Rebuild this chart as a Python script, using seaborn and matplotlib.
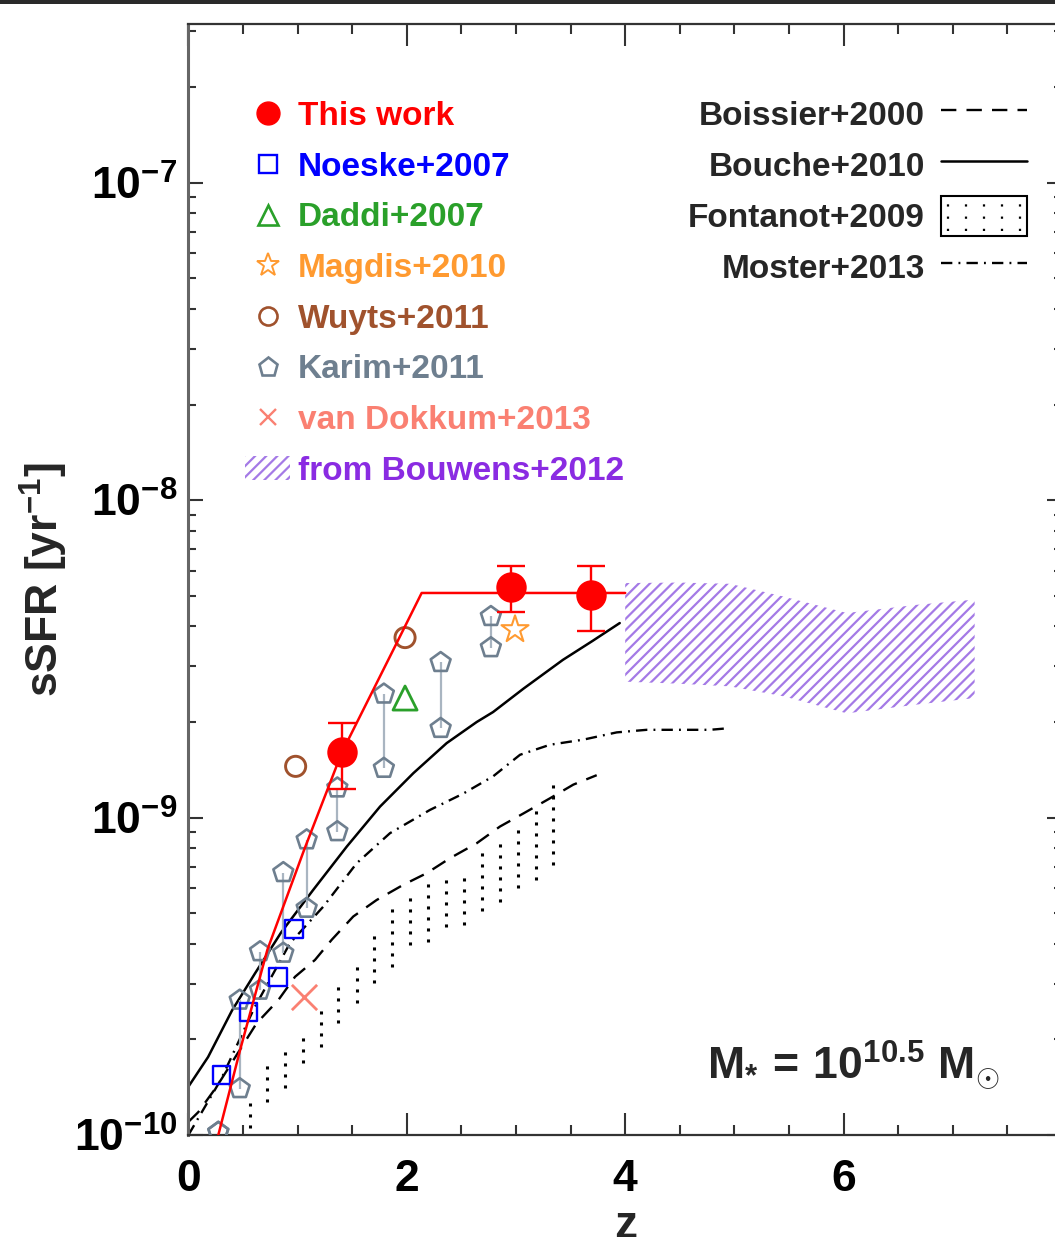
import numpy as np
import matplotlib
matplotlib.use("Agg")
import matplotlib.pyplot as plt
import seaborn as sns
from matplotlib.lines import Line2D
from matplotlib.patches import Patch, Rectangle
from matplotlib.legend_handler import HandlerBase
from matplotlib.ticker import MultipleLocator, LogLocator, NullFormatter, FixedLocator

# ---------------------------------------------------------------- data
# This work: sSFR measurements with asymmetric errors
this_z = [1.41, 2.95, 3.69]
this_ssfr = [1.61e-9, 5.32e-9, 5.04e-9]
this_hi = [1.98e-9, 6.21e-9, 6.21e-9]
this_lo = [1.23e-9, 4.43e-9, 3.88e-9]

# This work: rising then flat relation
fit_z = [0.274, 0.473, 0.723, 1.059, 1.404, 1.877, 2.136, 4.0]
fit_ssfr = [1.0e-10, 1.85e-10, 3.83e-10, 7.9e-10, 1.6e-9, 3.38e-9, 5.1e-9, 5.1e-9]

noeske_z = [0.305, 0.549, 0.818, 0.965]
noeske_ssfr = [1.545e-10, 2.44e-10, 3.14e-10, 4.46e-10]

daddi_z = [1.984]
daddi_ssfr = [2.38e-9]

magdis_z = [2.991]
magdis_ssfr = [3.91e-9]

wuyts_z = [0.982, 1.984]
wuyts_ssfr = [1.45e-9, 3.69e-9]

karim_z = [0.274, 0.47, 0.656, 0.869, 1.083, 1.364, 1.79, 2.31, 2.77]
karim_hi = [1.02e-10, 2.66e-10, 3.78e-10, 6.71e-10, 8.51e-10, 1.24e-9, 2.45e-9, 3.08e-9, 4.30e-9]
karim_lo = [1.02e-10, 1.40e-10, 2.86e-10, 3.74e-10, 5.18e-10, 9.03e-10, 1.43e-9, 1.91e-9, 3.43e-9]

vandokkum_z = [1.059]
vandokkum_ssfr = [2.73e-10]

bouwens_z = [4.0, 4.5, 4.96, 5.45, 6.03, 6.67, 7.2]
bouwens_hi = [5.48e-9, 5.5e-9, 5.45e-9, 4.97e-9, 4.41e-9, 4.68e-9, 4.86e-9]
bouwens_lo = [2.68e-9, 2.64e-9, 2.59e-9, 2.41e-9, 2.13e-9, 2.27e-9, 2.38e-9]

# Models
boissier_z = [0.0, 0.09, 0.259, 0.625, 0.823, 0.976, 1.159, 1.312, 1.51, 1.724, 1.968,
              2.182, 2.396, 2.64, 2.853, 3.067, 3.311, 3.525, 3.739]
boissier_ssfr = [1.10e-10, 1.18e-10, 1.42e-10, 2.25e-10, 2.66e-10, 3.15e-10, 3.56e-10,
                 4.12e-10, 4.88e-10, 5.5e-10, 6.14e-10, 6.68e-10, 7.45e-10, 8.3e-10,
                 9.37e-10, 1.03e-9, 1.15e-9, 1.27e-9, 1.36e-9]

bouche_z = [0.0, 0.18, 0.40, 0.61, 0.85, 1.14, 1.45, 1.755, 2.06, 2.365, 2.64, 2.79,
            3.07, 3.43, 3.70, 3.95]
bouche_ssfr = [1.42e-10, 1.76e-10, 2.47e-10, 3.23e-10, 4.35e-10, 5.9e-10, 8.1e-10,
               1.083e-9, 1.38e-9, 1.716e-9, 2.0e-9, 2.15e-9, 2.55e-9, 3.14e-9, 3.6e-9, 4.1e-9]

moster_z = [0.0, 0.3, 0.6, 0.93, 1.235, 1.541, 1.846, 2.212, 2.517, 2.792, 3.037,
            3.311, 3.617, 3.922, 4.197, 4.5, 4.776, 4.93]
moster_ssfr = [1.0e-10, 1.5e-10, 2.5e-10, 4.02e-10, 5.24e-10, 7.18e-10, 8.93e-10,
               1.057e-9, 1.19e-9, 1.35e-9, 1.577e-9, 1.696e-9, 1.76e-9, 1.855e-9,
               1.89e-9, 1.89e-9, 1.89e-9, 1.91e-9]

fontanot_z = [0.56, 0.717, 0.883, 1.052, 1.211, 1.373, 1.541, 1.703, 1.862, 2.03,
              2.197, 2.359, 2.524, 2.686, 2.853, 3.021, 3.183, 3.342]
fontanot_hi = [1.26e-10, 1.747e-10, 1.89e-10, 2.115e-10, 2.536e-10, 3.005e-10, 3.56e-10,
               4.43e-10, 5.31e-10, 5.79e-10, 6.36e-10, 6.69e-10, 6.84e-10, 7.91e-10,
               8.50e-10, 9.37e-10, 1.058e-9, 1.283e-9]
fontanot_lo = [9.0e-11, 1.27e-10, 1.405e-10, 1.685e-10, 1.897e-10, 2.253e-10, 2.60e-10,
               3.01e-10, 3.39e-10, 3.97e-10, 4.06e-10, 4.53e-10, 4.59e-10, 5.06e-10,
               5.43e-10, 6.0e-10, 6.36e-10, 7.1e-10]

left_labels = ["This work", "Noeske+2007", "Daddi+2007", "Magdis+2010", "Wuyts+2011",
               "Karim+2011", "van Dokkum+2013", "from Bouwens+2012"]
right_labels = ["Boissier+2000", "Bouche+2010", "Fontanot+2009", "Moster+2013"]
x_ticks = [0, 2, 4, 6, 8]
x_ticklabels = ["0", "2", "4", "6", ""]

# ---------------------------------------------------------------- style
RED = "#ff0000"
BLUE = "#0000ff"
GREEN = "#2aa02a"
ORANGE = "#ff9a30"
BROWN = "#a0522d"
SLATE = "#6e7f8f"
SLATE_LINE = "#a9b5c1"
SALMON = "#fa8072"
PURPLE = "#8a2be2"
HATCH = "#a47ae6"

DOTS = (0, (1, 2.6))
DASHED = (0, (6.5, 4.3))
DASHDOT = (0, (4.8, 2.6, 0.8, 2.6))

sns.set_theme(style="ticks")
plt.rcParams["font.family"] = ["Liberation Sans", "DejaVu Sans"]
plt.rcParams["font.weight"] = "bold"
plt.rcParams["axes.labelweight"] = "bold"
plt.rcParams["mathtext.fontset"] = "custom"
plt.rcParams["mathtext.rm"] = "Liberation Sans:bold"
plt.rcParams["mathtext.bf"] = "Liberation Sans:bold"
plt.rcParams["mathtext.it"] = "Liberation Sans:bold"
plt.rcParams["mathtext.sf"] = "Liberation Sans:bold"
plt.rcParams["hatch.color"] = HATCH
plt.rcParams["hatch.linewidth"] = 1.6


class DottedBoxHandler(HandlerBase):
    """Legend key: framed box filled with columns of dots."""

    def create_artists(self, legend, orig_handle, xdescent, ydescent,
                       width, height, fontsize, trans):
        x0, y0 = -xdescent, -ydescent
        box = Rectangle((x0, y0), width, height, facecolor="white",
                        edgecolor="black", lw=1.5, transform=trans)
        arts = [box]
        for f in np.linspace(0.08, 0.92, 5):
            arts.append(Line2D([x0 + f * width] * 2,
                               [y0 + 0.12 * height, y0 + 0.92 * height],
                               color="black", lw=1.6, ls=(0, (1, 4.5)),
                               transform=trans))
        return arts


W, H = 1055, 1237
fig = plt.figure(figsize=(W / 100, H / 100), dpi=100)
ax = fig.add_axes([188.4 / W, 102 / H, 873.6 / W, 1111 / H])
ax.set_yscale("log")
ax.set_xlim(0, 8)
ax.set_ylim(1e-10, 10 ** -6.5)

# bands
ax.fill_between(bouwens_z, bouwens_lo, bouwens_hi, facecolor="none",
                edgecolor=HATCH, hatch="///", linewidth=0, zorder=1)
ax.vlines(fontanot_z, fontanot_lo, fontanot_hi, colors="black", linewidth=2.2,
          linestyles=[DOTS], zorder=1)

# model curves
sns.lineplot(x=boissier_z, y=boissier_ssfr, ax=ax, color="black", lw=1.7,
             linestyle=DASHED, sort=False, estimator=None, zorder=2)
sns.lineplot(x=bouche_z, y=bouche_ssfr, ax=ax, color="black", lw=1.8,
             sort=False, estimator=None, zorder=2)
sns.lineplot(x=moster_z, y=moster_ssfr, ax=ax, color="black", lw=1.7,
             linestyle=DASHDOT, sort=False, estimator=None, zorder=2)

# Karim pairs
ax.vlines(karim_z, karim_lo, karim_hi, colors=SLATE_LINE, linewidth=1.6, zorder=3)
sns.scatterplot(x=karim_z + karim_z, y=karim_hi + karim_lo, ax=ax, marker="p", s=225,
                facecolor="none", edgecolor=SLATE, linewidth=1.9, zorder=4)

sns.scatterplot(x=noeske_z, y=noeske_ssfr, ax=ax, marker="s", s=160,
                facecolor="none", edgecolor=BLUE, linewidth=1.7, zorder=4)
sns.scatterplot(x=daddi_z, y=daddi_ssfr, ax=ax, marker="^", s=300,
                facecolor="none", edgecolor=GREEN, linewidth=2.0, zorder=4)
sns.scatterplot(x=magdis_z, y=magdis_ssfr, ax=ax, marker="*", s=420,
                facecolor="none", edgecolor=ORANGE, linewidth=1.5, zorder=4)
sns.scatterplot(x=wuyts_z, y=wuyts_ssfr, ax=ax, marker="o", s=210,
                facecolor="none", edgecolor=BROWN, linewidth=2.1, zorder=4)
sns.scatterplot(x=vandokkum_z, y=vandokkum_ssfr, ax=ax, marker="x", s=330,
                color=SALMON, linewidth=2.0, zorder=4)

# This work
sns.lineplot(x=fit_z, y=fit_ssfr, ax=ax, color=RED, lw=1.8, sort=False,
             estimator=None, zorder=5)
ssfr = np.array(this_ssfr)
ax.errorbar(this_z, ssfr, yerr=[ssfr - np.array(this_lo), np.array(this_hi) - ssfr],
            fmt="none", ecolor=RED, elinewidth=1.7, capsize=10, capthick=1.7, zorder=6)
sns.scatterplot(x=this_z, y=this_ssfr, ax=ax, marker="o", s=480, color=RED,
                edgecolor=RED, linewidth=0, zorder=7)

# axes cosmetics
ax.xaxis.set_major_locator(FixedLocator(x_ticks))
ax.set_xticklabels(x_ticklabels)
ax.xaxis.set_minor_locator(MultipleLocator(0.5))
ax.yaxis.set_major_locator(LogLocator(base=10, numticks=12))
ax.yaxis.set_minor_locator(LogLocator(base=10, subs=np.arange(2, 10), numticks=40))
ax.yaxis.set_minor_formatter(NullFormatter())

ax.tick_params(which="both", direction="in", top=True, right=True,
               color="#333333", width=1.5, labelcolor="black")
ax.tick_params(axis="x", which="major", length=15.5, pad=17.5, labelsize=32)
ax.tick_params(axis="x", which="minor", length=7.5)
ax.tick_params(axis="y", which="major", length=11, pad=8, labelsize=32)
ax.tick_params(axis="y", which="minor", length=5.5)
for side in ["top", "bottom", "right"]:
    ax.spines[side].set_color("#333333")
    ax.spines[side].set_linewidth(1.6)
ax.spines["left"].set_color("#666666")
ax.spines["left"].set_linewidth(2.2)

ax.set_xlabel("z", fontsize=33, fontweight="bold")
ax.xaxis.set_label_coords(0.5, -0.0625)
ax.set_ylabel(r"sSFR [yr$^{-1}$]", fontsize=32, fontweight="bold")
ax.yaxis.set_label_coords(-0.135, 0.5)

# legends
LEG_FONT = dict(size=24, weight="bold")
left_colors = [RED, BLUE, GREEN, ORANGE, BROWN, SLATE, SALMON, PURPLE]
left_handles = [
    Line2D([], [], ls="none", marker="o", ms=16.5, mfc=RED, mec=RED),
    Line2D([], [], ls="none", marker="s", ms=12.5, mfc="none", mec=BLUE, mew=1.7),
    Line2D([], [], ls="none", marker="^", ms=15, mfc="none", mec=GREEN, mew=1.9),
    Line2D([], [], ls="none", marker="*", ms=17, mfc="none", mec=ORANGE, mew=1.4),
    Line2D([], [], ls="none", marker="o", ms=13, mfc="none", mec=BROWN, mew=1.9),
    Line2D([], [], ls="none", marker="p", ms=14, mfc="none", mec=SLATE, mew=1.9),
    Line2D([], [], ls="none", marker="x", ms=12, mec=SALMON, mew=1.7),
    Patch(facecolor="none", edgecolor=HATCH, hatch="///", lw=0),
]
leg1 = ax.legend(left_handles, left_labels, loc="upper left",
                 bbox_to_anchor=(0.0648, 0.9307), frameon=False,
                 prop=LEG_FONT, labelcolor=left_colors,
                 handlelength=1.35, handletextpad=0.24, labelspacing=0.59,
                 borderpad=0, borderaxespad=0)
ax.add_artist(leg1)

fontanot_key = Patch(facecolor="white", edgecolor="black")
right_handles = [
    Line2D([], [], color="black", lw=1.7, ls=DASHED),
    Line2D([], [], color="black", lw=1.8),
    fontanot_key,
    Line2D([], [], color="black", lw=1.7, ls=DASHDOT),
]
ax.legend(right_handles, right_labels, loc="upper right",
          bbox_to_anchor=(0.9599, 0.9365), frameon=False,
          prop=LEG_FONT, markerfirst=False,
          handlelength=2.58, handleheight=1.45, handletextpad=0.48,
          labelspacing=0.34, borderpad=0, borderaxespad=0,
          handler_map={fontanot_key: DottedBoxHandler()})

ax.text(0.929, 0.0495, r"$\mathbf{M_{*}\,=\,10^{10.5}\ M_{\odot}}$",
        transform=ax.transAxes, ha="right", va="baseline", fontsize=32)

fig.add_artist(Rectangle((0, 1 - 4 / H), 1, 4 / H, transform=fig.transFigure,
                         facecolor="#2a2a2a", edgecolor="none"))

fig.savefig("out.png", dpi=100)
